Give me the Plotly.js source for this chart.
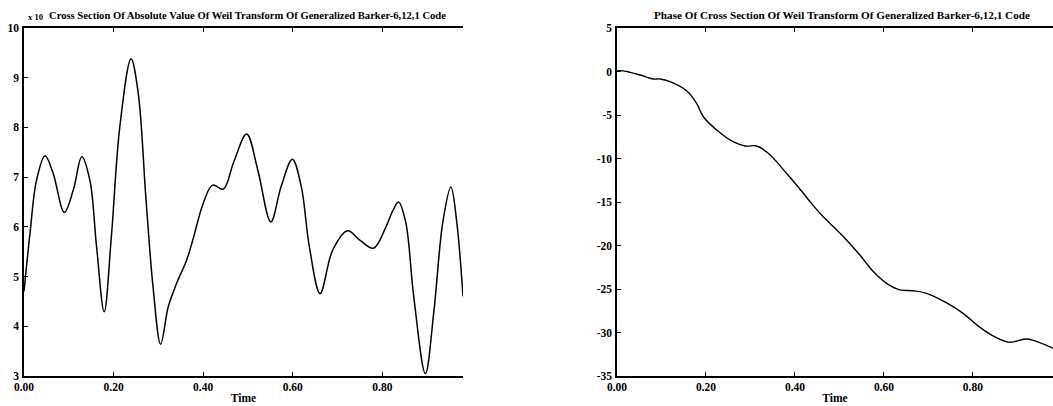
<!DOCTYPE html>
<html>
<head>
<meta charset="utf-8">
<script src="https://cdn.plot.ly/plotly-3.0.1.min.js"></script>
<style>html,body{margin:0;padding:0;background:#fff;}#chart{width:1053px;height:406px;}</style>
</head>
<body>
<div id="chart"></div>
<script>
// Left panel: absolute value of cross section (x 10 scale)
const absTime = [0, 0.0134, 0.028, 0.047, 0.065, 0.090, 0.110, 0.129, 0.147, 0.162, 0.179, 0.195, 0.214, 0.239, 0.255, 0.272, 0.288, 0.305, 0.322, 0.341, 0.363, 0.377, 0.400, 0.421, 0.445, 0.468, 0.497, 0.522, 0.551, 0.574, 0.599, 0.619, 0.637, 0.661, 0.689, 0.722, 0.749, 0.780, 0.808, 0.822, 0.836, 0.852, 0.870, 0.896, 0.915, 0.935, 0.953, 0.966, 0.980];
const absValue = [4.70, 5.87, 6.94, 7.43, 7.08, 6.29, 6.74, 7.41, 6.94, 5.60, 4.29, 5.80, 8.02, 9.38, 8.69, 6.60, 4.80, 3.64, 4.39, 4.87, 5.33, 5.74, 6.47, 6.84, 6.76, 7.30, 7.87, 7.14, 6.10, 6.81, 7.36, 6.81, 5.60, 4.66, 5.53, 5.92, 5.74, 5.57, 6.00, 6.30, 6.50, 6.10, 4.60, 3.05, 4.30, 6.10, 6.80, 6.10, 4.60];

// Right panel: phase of cross section
const phaseTime = [0, 0.010, 0.030, 0.052, 0.082, 0.097, 0.119, 0.157, 0.179, 0.194, 0.224, 0.261, 0.288, 0.314, 0.340, 0.381, 0.411, 0.434, 0.460, 0.509, 0.546, 0.576, 0.606, 0.636, 0.666, 0.696, 0.741, 0.778, 0.808, 0.842, 0.879, 0.894, 0.917, 0.936, 0.980];
const phaseValue = [0.06, 0.1, -0.1, -0.4, -0.86, -0.86, -1.17, -2.24, -3.66, -5.2, -6.72, -8.07, -8.56, -8.56, -9.4, -11.7, -13.5, -14.97, -16.5, -19.0, -21.1, -23.0, -24.35, -25.1, -25.2, -25.5, -26.6, -27.8, -29.1, -30.3, -31.1, -31.05, -30.75, -30.9, -31.8];

const xTickVals = [0, 0.2, 0.4, 0.6, 0.8];
const xTickText = ["0.00", "0.20", "0.40", "0.60", "0.80"];
const leftYTicks = [3, 4, 5, 6, 7, 8, 9, 10];
const rightYTicks = [5, 0, -5, -10, -15, -20, -25, -30, -35];

const leftTitle = "Cross Section Of Absolute Value Of Weil Transform Of Generalized Barker-6,12,1 Code";
const rightTitle = "Phase Of Cross Section Of Weil Transform Of Generalized Barker-6,12,1 Code";
const scaleLabel = "x 10";
const xLabel = "Time";

const W = 1053, H = 406;
const px = v => v / W;
const py = v => 1 - v / H;

const FONT = "'Liberation Serif', 'Times New Roman', serif";
const tickFont = {family: FONT, size: 11.5, color: "#000", weight: "bold"};

function xa(domain, anchor) {
  return {
    domain: domain, anchor: anchor, range: [0, 0.98],
    tickvals: xTickVals, ticktext: xTickText,
    ticks: "inside", ticklen: 4, tickwidth: 1, tickcolor: "#000",
    showline: true, linecolor: "#000", linewidth: 1.6, mirror: "ticks",
    showgrid: false, zeroline: false, tickfont: tickFont, ticklabelstandoff: 0,
    title: {text: "<b>" + xLabel + "</b>", font: {family: FONT, size: 11.5, color: "#000"}, standoff: 1}
  };
}
function ya(domain, anchor, range, vals) {
  return {
    domain: domain, anchor: anchor, range: range,
    tickvals: vals, ticktext: vals.map(String),
    ticks: "inside", ticklen: 4, tickwidth: 1, tickcolor: "#000",
    showline: true, linecolor: "#000", linewidth: 1.6, mirror: false,
    showgrid: false, zeroline: false, tickfont: tickFont, ticklabelstandoff: 1
  };
}

const yDom = [py(376), py(28)];

const traces = [
  {x: absTime, y: absValue, xaxis: "x", yaxis: "y", type: "scatter", mode: "lines",
   line: {color: "#000", width: 1.5, shape: "spline", smoothing: 1}, hoverinfo: "none"},
  {x: phaseTime, y: phaseValue, xaxis: "x2", yaxis: "y2", type: "scatter", mode: "lines",
   line: {color: "#000", width: 1.4, shape: "spline", smoothing: 1}, hoverinfo: "none"}
];

const layout = {
  width: W, height: H,
  margin: {l: 0, r: 0, t: 0, b: 0},
  paper_bgcolor: "#fff", plot_bgcolor: "#fff",
  showlegend: false,
  xaxis: xa([px(24), px(463)], "y"),
  yaxis: ya(yDom, "x", [3, 10], leftYTicks),
  xaxis2: xa([px(617), 1], "y2"),
  yaxis2: ya(yDom, "x2", [-35, 5], rightYTicks),
  annotations: [
    {text: "<b>" + leftTitle + "</b>", xref: "paper", yref: "paper", x: px(247), y: py(15),
     showarrow: false, font: {family: FONT, size: 10.6, color: "#000"}, xanchor: "center", yanchor: "middle"},
    {text: "<b>" + rightTitle + "</b>", xref: "paper", yref: "paper", x: px(842), y: py(15),
     showarrow: false, font: {family: FONT, size: 11.2, color: "#000"}, xanchor: "center", yanchor: "middle"},
    {text: "<b>" + scaleLabel + "</b>", xref: "paper", yref: "paper", x: px(45), y: py(17),
     showarrow: false, font: {family: FONT, size: 8.5, color: "#000"}, xanchor: "right", yanchor: "middle"}
  ]
};

Plotly.newPlot("chart", traces, layout, {staticPlot: true, displayModeBar: false});
</script>
</body>
</html>
